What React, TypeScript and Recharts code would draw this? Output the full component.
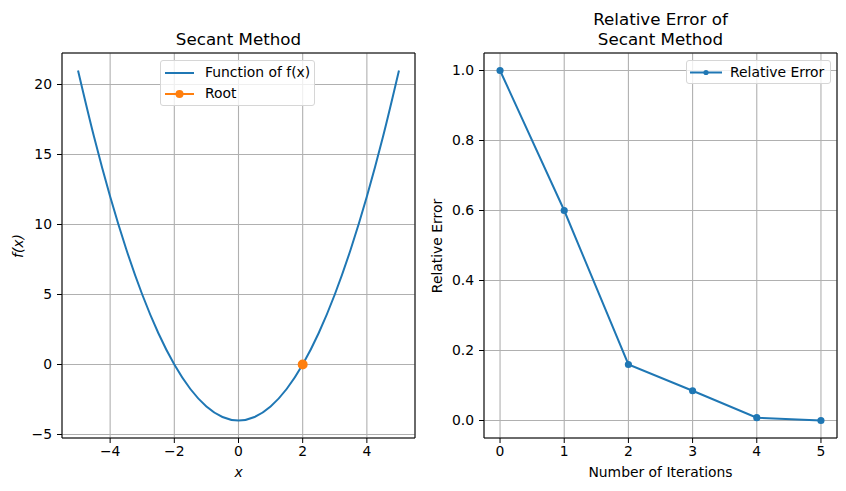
import React from 'react';
import { LineChart, Line, XAxis, YAxis, CartesianGrid, ReferenceArea } from 'recharts';

const FONT = '"DejaVu Sans", sans-serif';
const BLUE = '#1f77b4';
const ORANGE = '#ff7f0e';

// Left panel: function curve f(x)
const curveX = [-5, -4.5, -4, -3.5, -3, -2.5, -2, -1.5, -1, -0.5, 0, 0.5, 1, 1.5, 2, 2.5, 3, 3.5, 4, 4.5, 5];
const curveY = [21, 16.25, 12, 8.25, 5, 2.25, 0, -1.75, -3, -3.75, -4, -3.75, -3, -1.75, 0, 2.25, 5, 8.25, 12, 16.25, 21];
const rootX = [2];
const rootY = [0];
const leftXTicks = [-4, -2, 0, 2, 4];
const leftYTicks = [-5, 0, 5, 10, 15, 20];

// Right panel: relative error per iteration
const iterations = [0, 1, 2, 3, 4, 5];
const relErrors = [1.0, 0.6, 0.16, 0.085, 0.008, 0.0];
const rightXTicks = [0, 1, 2, 3, 4, 5];
const rightYTicks = [0, 0.2, 0.4, 0.6, 0.8, 1.0];

const curveData = curveX.map((x, i) => ({ x, y: curveY[i] }));
const rootData = rootX.map((x, i) => ({ x, y: rootY[i] }));
const errData = iterations.map((x, i) => ({ x, y: relErrors[i] }));

const tickStyle = { fill: '#000', fontSize: 13.9, fontFamily: FONT };
const minusFmt = (v: number) => (v < 0 ? '\u2212' + Math.abs(v) : String(v));

const abs = (s: React.CSSProperties): React.CSSProperties => ({ position: 'absolute', ...s });

const textBase: React.CSSProperties = { fontFamily: FONT, color: '#000', whiteSpace: 'nowrap' };

export default function App() {
  return (
    <div style={{ position: 'absolute', left: 0, top: 0, width: 846, height: 491, background: '#fff', overflow: 'hidden' }}>
      {/* Left chart */}
      <div style={abs({ left: 0, top: 0 })}>
        <LineChart width={420} height={491} margin={{ top: 53, right: 5, bottom: 0, left: 0 }}>
          <CartesianGrid stroke="#b0b0b0" strokeWidth={1.1} />
          <XAxis
            type="number"
            dataKey="x"
            domain={[-5.5, 5.5]}
            ticks={leftXTicks}
            allowDataOverflow
            height={53}
            axisLine={false}
            tickLine={{ stroke: '#000' }}
            tickSize={5}
            tickMargin={3.5}
            tick={tickStyle}
            tickFormatter={minusFmt}
          />
          <YAxis
            type="number"
            dataKey="y"
            domain={[-5.25, 22.25]}
            ticks={leftYTicks}
            allowDataOverflow
            width={62}
            axisLine={false}
            tickLine={{ stroke: '#000' }}
            tickSize={5}
            tickMargin={5}
            tick={tickStyle}
            tickFormatter={minusFmt}
          />
          <Line data={curveData} dataKey="y" type="monotone" stroke={BLUE} strokeWidth={2} dot={false} isAnimationActive={false} />
          <Line data={rootData} dataKey="y" stroke={ORANGE} strokeWidth={2} dot={{ r: 4, fill: ORANGE, stroke: ORANGE }} isAnimationActive={false} />
          <ReferenceArea x1={-5.5} x2={5.5} y1={-5.25} y2={22.25} stroke="#000" strokeWidth={1} fill="none" fillOpacity={0} ifOverflow="visible" />
        </LineChart>
      </div>

      {/* Right chart */}
      <div style={abs({ left: 420, top: 0 })}>
        <LineChart width={426} height={491} margin={{ top: 53, right: 9, bottom: 0, left: 0 }}>
          <CartesianGrid stroke="#b0b0b0" strokeWidth={1.1} />
          <XAxis
            type="number"
            dataKey="x"
            domain={[-0.25, 5.25]}
            ticks={rightXTicks}
            allowDataOverflow
            height={53}
            axisLine={false}
            tickLine={{ stroke: '#000' }}
            tickSize={5}
            tickMargin={3.5}
            tick={tickStyle}
          />
          <YAxis
            type="number"
            dataKey="y"
            domain={[-0.05, 1.05]}
            ticks={rightYTicks}
            allowDataOverflow
            width={64}
            axisLine={false}
            tickLine={{ stroke: '#000' }}
            tickSize={5}
            tickMargin={5}
            tick={tickStyle}
            tickFormatter={(v: number) => v.toFixed(1)}
          />
          <Line data={errData} dataKey="y" stroke={BLUE} strokeWidth={2} dot={{ r: 2.6, fill: BLUE, stroke: BLUE }} isAnimationActive={false} />
          <ReferenceArea x1={-0.25} x2={5.25} y1={-0.05} y2={1.05} stroke="#000" strokeWidth={1} fill="none" fillOpacity={0} ifOverflow="visible" />
        </LineChart>
      </div>

      {/* Titles */}
      <div style={abs({ ...textBase, left: 62, width: 353, top: 29, fontSize: 16.7, lineHeight: '20px', textAlign: 'center' })}>Secant Method</div>
      <div style={abs({ ...textBase, left: 484, width: 353, top: 9, fontSize: 16.7, lineHeight: '20px', textAlign: 'center' })}>
        Relative Error of
        <br />
        Secant Method
      </div>

      {/* Axis labels */}
      <div style={abs({ ...textBase, left: 62, width: 353, top: 464, fontSize: 13.9, lineHeight: '16px', textAlign: 'center', fontStyle: 'italic' })}>x</div>
      <div style={abs({ ...textBase, left: 484, width: 353, top: 464, fontSize: 13.9, lineHeight: '16px', textAlign: 'center' })}>Number of Iterations</div>
      <div style={abs({ ...textBase, left: 18, top: 246, fontSize: 13.9, lineHeight: '16px', transform: 'translate(-50%, -50%) rotate(-90deg)', fontStyle: 'italic' })}>f(x)</div>
      <div style={abs({ ...textBase, left: 437, top: 246, fontSize: 13.9, lineHeight: '16px', transform: 'translate(-50%, -50%) rotate(-90deg)' })}>Relative Error</div>

      {/* Left legend */}
      <div style={abs({ left: 160, top: 60, width: 155, height: 46, boxSizing: 'border-box', border: '1px solid #d6d6d6', borderRadius: 3, background: 'rgba(255,255,255,0.8)' })}>
        <svg style={abs({ left: 3, top: 4 })} width={32} height={40}>
          <line x1={1} y1={8} x2={30} y2={8} stroke={BLUE} strokeWidth={2} />
          <line x1={1} y1={29} x2={30} y2={29} stroke={ORANGE} strokeWidth={2} />
          <circle cx={15.5} cy={29} r={4} fill={ORANGE} />
        </svg>
        <div style={abs({ ...textBase, left: 44, top: 3, fontSize: 13.9, lineHeight: '16px' })}>Function of f(x)</div>
        <div style={abs({ ...textBase, left: 44, top: 24, fontSize: 13.9, lineHeight: '16px' })}>Root</div>
      </div>

      {/* Right legend */}
      <div style={abs({ left: 686, top: 60, width: 145, height: 24, boxSizing: 'border-box', border: '1px solid #d6d6d6', borderRadius: 3, background: 'rgba(255,255,255,0.8)' })}>
        <svg style={abs({ left: 2, top: 4 })} width={34} height={16}>
          <line x1={1} y1={7.5} x2={33} y2={7.5} stroke={BLUE} strokeWidth={2} />
          <circle cx={17} cy={7.5} r={2.6} fill={BLUE} />
        </svg>
        <div style={abs({ ...textBase, left: 43, top: 3, fontSize: 13.9, lineHeight: '16px' })}>Relative Error</div>
      </div>
    </div>
  );
}
